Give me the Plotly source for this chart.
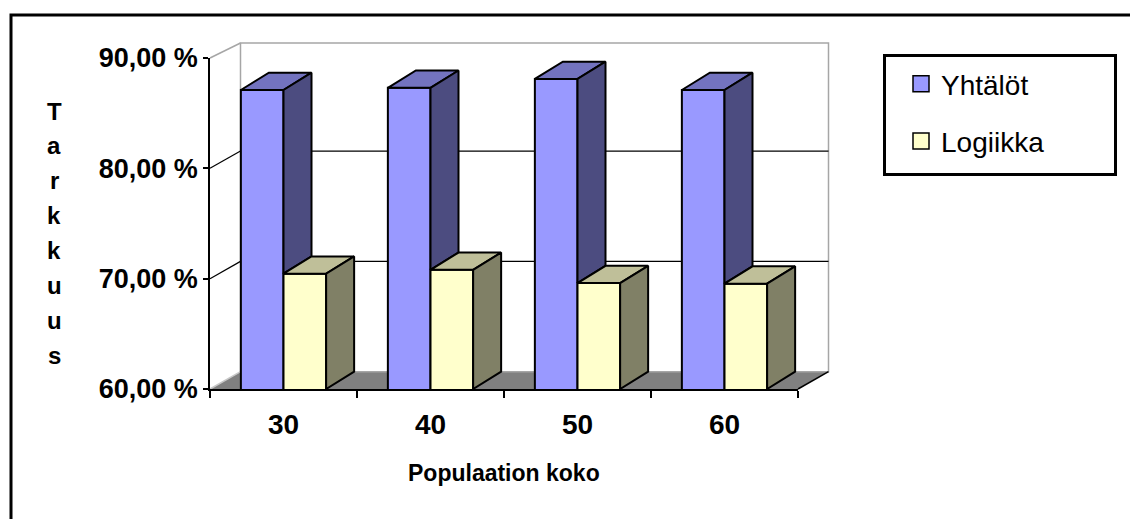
import plotly.graph_objects as go

# ---------------- data ----------------
categories = ["30", "40", "50", "60"]
series_names = ["Yhtälöt", "Logiikka"]
yhtalot = [87.1, 87.3, 88.1, 87.1]
logiikka = [70.45, 70.8, 69.6, 69.55]
y_tick_values = [60, 70, 80, 90]
y_tick_labels = ["60,00 %", "70,00 %", "80,00 %", "90,00 %"]
x_axis_title = "Populaation koko"
y_axis_title = "Tarkkuus"

# ---------------- geometry ----------------
FIG_W, FIG_H = 1130, 519
M_L, M_R, M_T, M_B = 210, 332, 58, 130
PLOT_W = FIG_W - M_L - M_R
PLOT_H = FIG_H - M_T - M_B
X0, X1 = -0.5, len(categories) - 0.5
Y0, Y1 = y_tick_values[0], y_tick_values[-1]

FONT = "Liberation Sans"


def ux(px):
    return px / PLOT_W * (X1 - X0)


def uy(px):
    return px / PLOT_H * (Y1 - Y0)


# depth offsets of the pseudo-3D box (walls) and of the columns
wall_dx, wall_dy = ux(30.5), uy(17.3)
wall_top = Y1 + uy(15.0)
bar_dx, bar_dy = ux(28.0), uy(17.3)
BAR_W = 0.29


def xp(x):  # data -> paper
    return (x - X0) / (X1 - X0)


def yp(y):
    return (y - Y0) / (Y1 - Y0)


def pxx(px):  # pixel -> paper
    return (px - M_L) / PLOT_W


def pxy(py):
    return (FIG_H - M_B - py) / PLOT_H


COLORS = {
    "Yhtälöt": {"front": "#9999FF", "top": "#7373BF", "side": "#4C4C80"},
    "Logiikka": {"front": "#FFFFCC", "top": "#BFBF99", "side": "#808066"},
}
FLOOR = "#808080"
WALL_EDGE = "#A6A6A6"

fig = go.Figure()

# ---- front faces of the columns ----
offsets = [-BAR_W, 0.0]
series_values = [yhtalot, logiikka]
for name, vals, off in zip(series_names, series_values, offsets):
    fig.add_trace(go.Bar(
        x=list(range(len(categories))), y=vals, width=BAR_W, offset=off,
        marker=dict(color=COLORS[name]["front"], line=dict(color="black", width=2)),
        name=name, legendgroup=name, showlegend=False, hoverinfo="skip",
    ))


def poly_trace(xs, ys, fillcolor):
    return go.Scatter(
        x=xs, y=ys, mode="lines", fill="toself", fillcolor=fillcolor,
        line=dict(color="black", width=2), showlegend=False, hoverinfo="skip",
    )


# ---- top and side faces ----
for k, (name, vals, off) in enumerate(zip(series_names, series_values, offsets)):
    tx, ty, sx, sy = [], [], [], []
    for i, v in enumerate(vals):
        xl = i + off
        xr = xl + BAR_W
        tx += [xl, xr, xr + bar_dx, xl + bar_dx, xl, None]
        ty += [v, v, v + bar_dy, v + bar_dy, v, None]
        # the neighbouring column in front hides the lower part of the side face
        if k + 1 < len(series_values):
            base = series_values[k + 1][i]
        else:
            base = Y0
        sx += [xr, xr, xr + bar_dx, xr + bar_dx, xr, None]
        sy += [base, v, v + bar_dy, base + bar_dy, base, None]
    fig.add_trace(poly_trace(tx, ty, COLORS[name]["top"]))
    fig.add_trace(poly_trace(sx, sy, COLORS[name]["side"]))

# ---- legend entries ----
for name in series_names:
    fig.add_trace(go.Scatter(
        x=[None], y=[None], mode="markers", name=name, legendgroup=name,
        marker=dict(symbol="square", size=20, color=COLORS[name]["front"],
                    line=dict(color="black", width=1.5)),
    ))

# ---- walls, floor and gridlines ----
shapes = []
floor_path = "M{},{} L{},{} L{},{} L{},{} Z".format(
    xp(X0), yp(Y0), xp(X1), yp(Y0),
    xp(X1 + wall_dx), yp(Y0 + wall_dy), xp(X0 + wall_dx), yp(Y0 + wall_dy))
shapes.append(dict(type="path", path=floor_path, xref="paper", yref="paper",
                   fillcolor=FLOOR, line=dict(width=0), layer="below"))
shapes.append(dict(type="rect", xref="paper", yref="paper",
                   x0=xp(X0 + wall_dx), x1=xp(X1 + wall_dx),
                   y0=yp(Y0 + wall_dy), y1=yp(wall_top),
                   fillcolor="white", line=dict(color=WALL_EDGE, width=1.5), layer="below"))
shapes.append(dict(type="line", xref="paper", yref="paper",
                   x0=xp(X0), y0=yp(Y1), x1=xp(X0 + wall_dx), y1=yp(wall_top),
                   line=dict(color=WALL_EDGE, width=1.5), layer="below"))
shapes.append(dict(type="line", xref="paper", yref="paper",
                   x0=xp(X0), y0=yp(Y0), x1=xp(X0 + wall_dx), y1=yp(Y0 + wall_dy),
                   line=dict(color="#C8C8C8", width=1.5), layer="below"))
shapes.append(dict(type="line", xref="paper", yref="paper",
                   x0=xp(X1), y0=yp(Y0), x1=xp(X1 + wall_dx), y1=yp(Y0 + wall_dy),
                   line=dict(color="black", width=1.5), layer="below"))
for v in y_tick_values[1:-1]:
    shapes.append(dict(type="line", xref="paper", yref="paper",
                       x0=xp(X0), y0=yp(v), x1=xp(X0 + wall_dx), y1=yp(v + wall_dy),
                       line=dict(color="black", width=1.2), layer="below"))
    shapes.append(dict(type="line", xref="paper", yref="paper",
                       x0=xp(X0 + wall_dx), y0=yp(v + wall_dy),
                       x1=xp(X1 + wall_dx), y1=yp(v + wall_dy),
                       line=dict(color="black", width=1.2), layer="below"))

# legend frame
shapes.append(dict(type="rect", xref="paper", yref="paper",
                   x0=pxx(884.5), x1=pxx(1115.5), y0=pxy(55.5), y1=pxy(174.5),
                   line=dict(color="black", width=3), fillcolor="rgba(0,0,0,0)"))

# outer chart frame
shapes.append(dict(type="rect", xref="paper", yref="paper",
                   x0=pxx(11), x1=pxx(1145), y0=pxy(15), y1=pxy(535),
                   line=dict(color="black", width=3), fillcolor="rgba(0,0,0,0)"))

# ---- texts ----
annotations = [dict(
    text=x_axis_title, xref="x", yref="paper", x=(X0 + X1) / 2, y=pxy(473),
    showarrow=False, xanchor="center", yanchor="middle",
    font=dict(family=FONT, size=23, color="black", weight="bold"),
)]
for j, letter in enumerate(y_axis_title):
    annotations.append(dict(
        text=letter, xref="paper", yref="paper", x=pxx(54), y=pxy(111 + 34.86 * j),
        showarrow=False, xanchor="center", yanchor="middle",
        font=dict(family=FONT, size=24, color="black", weight="bold"),
    ))

fig.update_layout(
    width=FIG_W, height=FIG_H,
    margin=dict(l=M_L, r=M_R, t=M_T, b=M_B, autoexpand=False),
    paper_bgcolor="white", plot_bgcolor="white",
    barmode="overlay",
    shapes=shapes, annotations=annotations,
    showlegend=True,
    legend=dict(
        x=pxx(886), y=pxy(59), xanchor="left", yanchor="top",
        borderwidth=0, bgcolor="rgba(0,0,0,0)",
        font=dict(family=FONT, size=28, color="black"),
        traceorder="grouped", tracegroupgap=18, indentation=15,
    ),
    xaxis=dict(
        range=[X0, X1], tickmode="array", tickvals=list(range(len(categories))),
        ticktext=categories, ticks="", showline=True, linecolor="black", linewidth=1.5,
        showgrid=False, zeroline=False, ticklabelstandoff=10,
        tickfont=dict(family=FONT, size=28, color="black", weight="bold"),
        minor=dict(tickmode="array", tickvals=[i - 0.5 for i in range(len(categories) + 1)],
                   ticks="outside", ticklen=7, tickwidth=1.5, tickcolor="black", showgrid=False),
        automargin=False, fixedrange=True,
    ),
    yaxis=dict(
        range=[Y0, Y1], tickmode="array", tickvals=y_tick_values, ticktext=y_tick_labels,
        ticks="outside", ticklen=5, tickwidth=1.5, tickcolor="black",
        showline=True, linecolor="black", linewidth=1.5,
        showgrid=False, zeroline=False,
        tickfont=dict(family=FONT, size=27, color="black", weight="bold"),
        automargin=False, fixedrange=True,
    ),
)

fig.write_html("out.html")
